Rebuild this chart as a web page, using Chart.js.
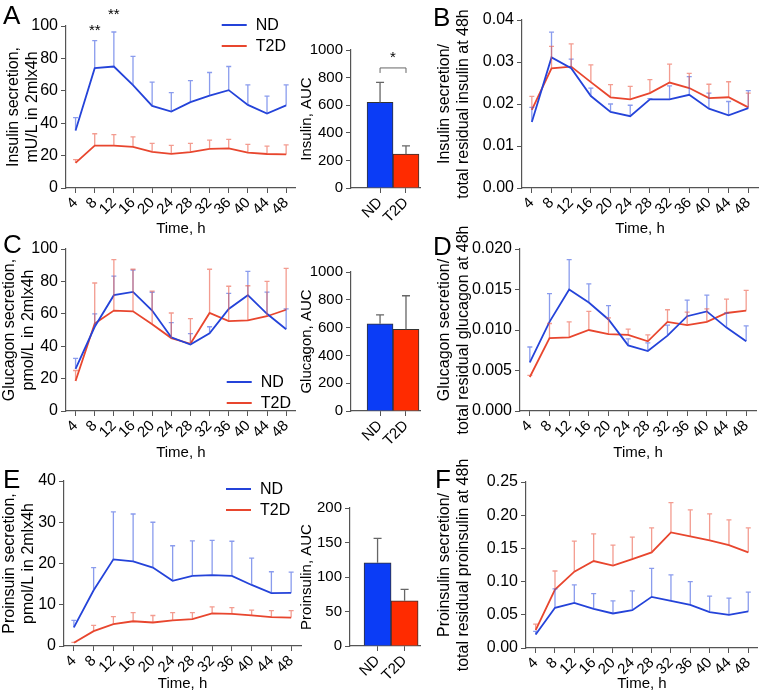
<!DOCTYPE html>
<html>
<head>
<meta charset="utf-8">
<script src="https://cdn.jsdelivr.net/npm/chart.js@4.4.1/dist/chart.umd.min.js"></script>
<style>
  body { margin: 0; background: #fff; width: 762px; height: 695px; position: relative; overflow: hidden;
         font-family: "Liberation Sans", Arial, sans-serif; }
  canvas { position: absolute; }
  .tag { position: absolute; font-size: 26px; line-height: 26px; color: #000; }
</style>
</head>
<body>
<canvas id="lineA"></canvas>
<canvas id="barA"></canvas>
<canvas id="lineB"></canvas>
<canvas id="lineC"></canvas>
<canvas id="barC"></canvas>
<canvas id="lineD"></canvas>
<canvas id="lineE"></canvas>
<canvas id="barE"></canvas>
<canvas id="lineF"></canvas>
<div class="tag" style="left:3px;top:2px">A</div>
<div class="tag" style="left:433px;top:4px">B</div>
<div class="tag" style="left:3px;top:231px">C</div>
<div class="tag" style="left:433px;top:233px">D</div>
<div class="tag" style="left:3px;top:466px">E</div>
<div class="tag" style="left:435px;top:466px">F</div>
<script>
// time points and groups
const hours = ['4', '8', '12', '16', '20', '24', '28', '32', '36', '40', '44', '48'];
const groups = ['ND', 'T2D'];

// A - insulin secretion (mean and mean+SEM)
const insulinND = [35.5, 74, 75, 63.5, 50.7, 47.2, 53, 57, 60.4, 51.3, 46, 51];
const insulinNDUpper = [43.5, 91, 96.3, 81.3, 65.3, 58.9, 66.3, 71.3, 75, 63.7, 56.7, 63.7];
const insulinT2D = [15.5, 26.2, 26.2, 25.4, 22.3, 21.1, 22.2, 24.1, 24.5, 21.8, 21, 20.7];
const insulinT2DUpper = [17.5, 33.5, 33, 31.5, 27.5, 26.3, 27.5, 29.5, 30, 26.9, 25.9, 26.6];
const insulinAUC = [620, 245];
const insulinAUCUpper = [765, 305];

// B - insulin secretion / residual insulin
const insFracND = [0.0157, 0.0311, 0.0285, 0.0219, 0.0181, 0.0171, 0.0211, 0.0211, 0.0222, 0.0189, 0.0173, 0.019];
const insFracNDUpper = [0.0192, 0.0371, 0.0307, 0.0238, 0.02, 0.0197, 0.0213, 0.0243, 0.0265, 0.0226, 0.0206, 0.0232];
const insFracT2D = [0.0186, 0.0285, 0.0289, 0.0252, 0.0216, 0.0211, 0.0226, 0.0251, 0.0238, 0.0214, 0.0216, 0.0192];
const insFracT2DUpper = [0.0218, 0.0337, 0.0343, 0.0293, 0.0246, 0.0242, 0.0258, 0.0295, 0.0273, 0.0247, 0.0253, 0.0226];

// C - glucagon secretion
const glucagonND = [26, 52, 71.5, 73.5, 62, 45.5, 41, 48, 63, 71.5, 60, 50.5];
const glucagonNDUpper = [32.5, 60, 83.3, 87, 73.3, 54.6, 47.8, 52, 72.6, 86.2, 73.4, 63];
const glucagonT2D = [18.5, 54, 62, 61.5, 53.5, 45, 41.5, 60.5, 55.5, 56, 58.5, 62.5];
const glucagonT2DUpper = [25, 79, 93.4, 87.5, 74, 60.5, 57, 87.5, 77, 77.3, 80, 88];
const glucagonAUC = [627, 588];
const glucagonAUCUpper = [692, 829];

// D - glucagon secretion / residual glucagon
const glcFracND = [0.006, 0.011, 0.015, 0.0134, 0.0113, 0.0081, 0.0074, 0.0093, 0.0117, 0.0123, 0.0103, 0.0086];
const glcFracNDUpper = [0.0079, 0.0145, 0.0187, 0.0157, 0.013, 0.0089, 0.0084, 0.0106, 0.0137, 0.0143, 0.0121, 0.0105];
const glcFracT2D = [0.0042, 0.009, 0.0091, 0.01, 0.0095, 0.0094, 0.0086, 0.011, 0.0106, 0.011, 0.0121, 0.0124];
const glcFracT2DUpper = [0.0044, 0.0108, 0.011, 0.0123, 0.0115, 0.0101, 0.0094, 0.0125, 0.0122, 0.0126, 0.0138, 0.0149];

// E - proinsulin secretion
const proinsND = [4.5, 13.5, 21, 20.5, 19, 15.8, 17, 17.2, 17, 14.8, 12.8, 12.9];
const proinsNDUpper = [6.2, 19, 32.5, 32, 30, 24.3, 25.5, 25.6, 25.4, 21.3, 18, 17.9];
const proinsT2D = [0.8, 3.6, 5.3, 6, 5.7, 6.2, 6.5, 7.9, 7.8, 7.4, 7, 6.9];
const proinsT2DUpper = [0.9, 5, 7.1, 8.1, 7.4, 8.1, 8.1, 9.5, 9.3, 8.7, 8.6, 8.6];
const proinsAUC = [120.5, 65.5];
const proinsAUCUpper = [156, 82];

// F - proinsulin secretion / residual proinsulin
const proFracND = [0.0202, 0.0605, 0.068, 0.059, 0.052, 0.057, 0.077, 0.071, 0.065, 0.054, 0.05, 0.055];
const proFracNDUpper = [0.025, 0.089, 0.095, 0.082, 0.071, 0.086, 0.12, 0.11, 0.1, 0.078, 0.075, 0.084];
const proFracT2D = [0.027, 0.088, 0.115, 0.131, 0.124, 0.134, 0.144, 0.174, 0.168, 0.162, 0.155, 0.144];
const proFracT2DUpper = [0.036, 0.116, 0.161, 0.172, 0.155, 0.167, 0.181, 0.219, 0.208, 0.202, 0.193, 0.181];

const ndLine = '#2443d9', t2dLine = '#e8462e';
const ndErr = 'rgba(60,90,225,0.6)', t2dErr = 'rgba(235,90,70,0.6)';
const ndBar = '#0b3cf6', t2dBar = '#ff2b00';
const axisColor = '#555';
const FONT = '"Liberation Sans", Arial, sans-serif';
Chart.defaults.font.family = FONT;
Chart.defaults.color = '#000';

// one-sided (upper) error bars
const errorBars = {
  id: 'errorBars',
  afterDatasetsDraw(chart) {
    const ctx = chart.ctx, y = chart.scales.y;
    chart.data.datasets.forEach((ds, i) => {
      if (!ds.errUp) return;
      chart.getDatasetMeta(i).data.forEach((el, j) => {
        const top = y.getPixelForValue(ds.errUp[j]);
        ctx.save();
        ctx.strokeStyle = ds.errColor;
        ctx.lineWidth = 1.3;
        ctx.beginPath();
        ctx.moveTo(el.x, el.y);
        ctx.lineTo(el.x, top);
        ctx.moveTo(el.x - ds.cap, top);
        ctx.lineTo(el.x + ds.cap, top);
        ctx.stroke();
        ctx.restore();
      });
    });
  }
};

// legend, significance stars, bracket
const extras = {
  id: 'extras',
  afterDraw(chart, args, o) {
    const ctx = chart.ctx, a = chart.chartArea, x = chart.scales.x, y = chart.scales.y;
    ctx.save();
    if (o.legend) {
      [['ND', ndLine], ['T2D', t2dLine]].forEach(([name, col], k) => {
        const ly = a.top + o.legend.y + k * 21;
        ctx.strokeStyle = col; ctx.lineWidth = 2;
        ctx.beginPath();
        ctx.moveTo(a.right + o.legend.x, ly);
        ctx.lineTo(a.right + o.legend.x + 25, ly);
        ctx.stroke();
        ctx.fillStyle = '#000';
        ctx.font = '16px ' + FONT;
        ctx.textBaseline = 'middle';
        ctx.fillText(name, a.right + o.legend.x + 34, ly + 1);
      });
    }
    ctx.fillStyle = '#000';
    ctx.textAlign = 'center';
    ctx.textBaseline = 'middle';
    ctx.font = '15px ' + FONT;
    (o.stars || []).forEach(s => {
      ctx.fillText(s.text, x.getPixelForValue(hours.indexOf(s.hour)), y.getPixelForValue(s.y));
    });
    if (o.bracket) {
      const b = o.bracket;
      const x1 = x.getPixelForValue(1), x2 = x.getPixelForValue(2);
      const by = y.getPixelForValue(b.y);
      ctx.strokeStyle = '#666'; ctx.lineWidth = 1;
      ctx.beginPath();
      ctx.moveTo(x1, by + 5); ctx.lineTo(x1, by); ctx.lineTo(x2, by); ctx.lineTo(x2, by + 5);
      ctx.stroke();
      ctx.fillText(b.text, (x1 + x2) / 2, y.getPixelForValue(b.textY));
    }
    ctx.restore();
  }
};

function place(id, box) {
  const c = document.getElementById(id);
  c.width = box[2]; c.height = box[3];
  c.style.left = box[0] + 'px'; c.style.top = box[1] + 'px';
  return c;
}

// box = [left, top, width, height] of canvas; area = [left, top, right, bottom] of plot
function lineChart(id, box, area, cfg) {
  const c = place(id, box);
  return new Chart(c, {
    type: 'line',
    data: {
      labels: hours,
      datasets: [
        { label: 'ND', data: cfg.nd, errUp: cfg.ndUp, errColor: ndErr, cap: 2.5,
          borderColor: ndLine, borderWidth: 1.8, pointRadius: 0, tension: 0 },
        { label: 'T2D', data: cfg.t2d, errUp: cfg.t2dUp, errColor: t2dErr, cap: 2.5,
          borderColor: t2dLine, borderWidth: 1.8, pointRadius: 0, tension: 0 }
      ]
    },
    options: {
      responsive: false, animation: false,
      layout: { padding: { top: area[1] - box[1], right: box[0] + box[2] - area[2], left: 0, bottom: 0 } },
      plugins: { legend: { display: false }, tooltip: { enabled: false }, extras: cfg.extras || {} },
      scales: {
        x: {
          offset: true,
          grid: { offset: false, drawOnChartArea: false, tickLength: 5, color: axisColor },
          border: { color: axisColor, width: 1.2 },
          ticks: { minRotation: 45, maxRotation: 45, autoSkip: false, font: { size: 15 }, padding: 1 },
          title: { display: true, text: 'Time, h', font: { size: 15 }, padding: { top: 0, bottom: 2 } },
          afterFit: s => { s.height = box[1] + box[3] - area[3]; }
        },
        y: {
          min: 0, max: cfg.max,
          ticks: { stepSize: cfg.step, callback: v => v.toFixed(cfg.dec), font: { size: 16 }, padding: 3 },
          grid: { drawOnChartArea: false, tickLength: 5, color: axisColor },
          border: { color: axisColor, width: 1.2 },
          title: { display: true, text: cfg.title, font: { size: 16 }, padding: { top: cfg.titlePad, bottom: 0 } },
          afterFit: s => { s.width = area[0] - box[0]; }
        }
      }
    },
    plugins: [errorBars, extras]
  });
}

function barChart(id, box, area, cfg) {
  const c = place(id, box);
  return new Chart(c, {
    type: 'bar',
    data: {
      datasets: [{
        data: cfg.values.map((v, i) => ({ x: i + 1, y: v })),
        errUp: cfg.upper, errColor: '#666', cap: 4,
        backgroundColor: [ndBar, t2dBar], borderColor: '#333', borderWidth: 1,
        barPercentage: 1, categoryPercentage: 1
      }]
    },
    options: {
      responsive: false, animation: false,
      layout: { padding: { top: area[1] - box[1], right: box[0] + box[2] - area[2], left: 0, bottom: 0 } },
      plugins: { legend: { display: false }, tooltip: { enabled: false }, extras: cfg.extras || {} },
      scales: {
        x: {
          type: 'linear', min: cfg.xmin, max: cfg.xmax, offset: false, bounds: 'data',
          afterBuildTicks: s => { s.ticks = groups.map((g, i) => ({ value: i + 1 })); },
          ticks: { callback: v => groups[v - 1], minRotation: 45, maxRotation: 45, font: { size: 15 }, padding: 1 },
          grid: { offset: false, drawOnChartArea: false, tickLength: 5, color: axisColor },
          border: { color: axisColor, width: 1.2 },
          afterFit: s => { s.height = box[1] + box[3] - area[3]; }
        },
        y: {
          min: 0, max: cfg.max,
          ticks: { stepSize: cfg.step, callback: v => String(v), font: { size: 15 }, padding: 3 },
          grid: { drawOnChartArea: false, tickLength: 5, color: axisColor },
          border: { color: axisColor, width: 1.2 },
          title: { display: true, text: cfg.title, font: { size: 15 }, padding: { top: 3, bottom: 0 } },
          afterFit: s => { s.width = area[0] - box[0]; }
        }
      }
    },
    plugins: [errorBars, extras]
  });
}

// row 1
lineChart('lineA', [0, 0, 300, 240], [66, 26, 297, 188], {
  nd: insulinND, ndUp: insulinNDUpper, t2d: insulinT2D, t2dUp: insulinT2DUpper,
  max: 100, step: 20, dec: 0, titlePad: 4, title: ['Insulin secretion,', 'mU/L in 2mlx4h'],
  extras: { legend: { x: -74, y: -1 }, stars: [{ hour: '8', y: 97, text: '**' }, { hour: '12', y: 107, text: '**' }] }
});
barChart('barA', [295, 0, 130, 240], [351, 50, 420, 188], {
  values: insulinAUC, upper: insulinAUCUpper, max: 1000, step: 200, xmin: -0.12, xmax: 2.54,
  title: 'Insulin, AUC', extras: { bracket: { y: 870, text: '*', textY: 945 } }
});
lineChart('lineB', [430, 0, 332, 240], [522, 20, 762, 188], {
  nd: insFracND, ndUp: insFracNDUpper, t2d: insFracT2D, t2dUp: insFracT2DUpper,
  max: 0.04, step: 0.01, dec: 2, titlePad: 5, title: ['Insulin secretion/', 'total residual insulin at 48h']
});

// row 2
lineChart('lineC', [0, 225, 300, 239], [66, 249, 297, 411], {
  nd: glucagonND, ndUp: glucagonNDUpper, t2d: glucagonT2D, t2dUp: glucagonT2DUpper,
  max: 100, step: 20, dec: 0, titlePad: 0, title: ['Glucagon secretion,', 'pmol/L in 2mlx4h'],
  extras: { legend: { x: -69, y: 133 } }
});
barChart('barC', [295, 225, 130, 239], [351, 272, 420, 411], {
  values: glucagonAUC, upper: glucagonAUCUpper, max: 1000, step: 200, xmin: -0.12, xmax: 2.54,
  title: 'Glucagon, AUC'
});
lineChart('lineD', [430, 225, 332, 239], [520, 249, 756, 411], {
  nd: glcFracND, ndUp: glcFracNDUpper, t2d: glcFracT2D, t2dUp: glcFracT2DUpper,
  max: 0.02, step: 0.005, dec: 3, titlePad: 5, title: ['Glucagon secretion/', 'total residual glucagon at 48h']
});

// row 3
lineChart('lineE', [0, 455, 305, 240], [64, 481, 302, 646], {
  nd: proinsND, ndUp: proinsNDUpper, t2d: proinsT2D, t2dUp: proinsT2DUpper,
  max: 40, step: 10, dec: 0, titlePad: 0, title: ['Proinsuin secretion,', 'pmol/L in 2mlx4h'],
  extras: { legend: { x: -75, y: 8 } }
});
barChart('barE', [295, 455, 130, 240], [350, 508, 420, 646], {
  values: proinsAUC, upper: proinsAUCUpper, max: 200, step: 50, xmin: -0.02, xmax: 2.57,
  title: 'Proinsulin, AUC'
});
lineChart('lineF', [430, 455, 332, 240], [526, 482, 762, 648], {
  nd: proFracND, ndUp: proFracNDUpper, t2d: proFracT2D, t2dUp: proFracT2DUpper,
  max: 0.25, step: 0.05, dec: 2, titlePad: 5, title: ['Proinsulin secretion/', 'total residual proinsulin at 48h']
});
</script>
</body>
</html>
